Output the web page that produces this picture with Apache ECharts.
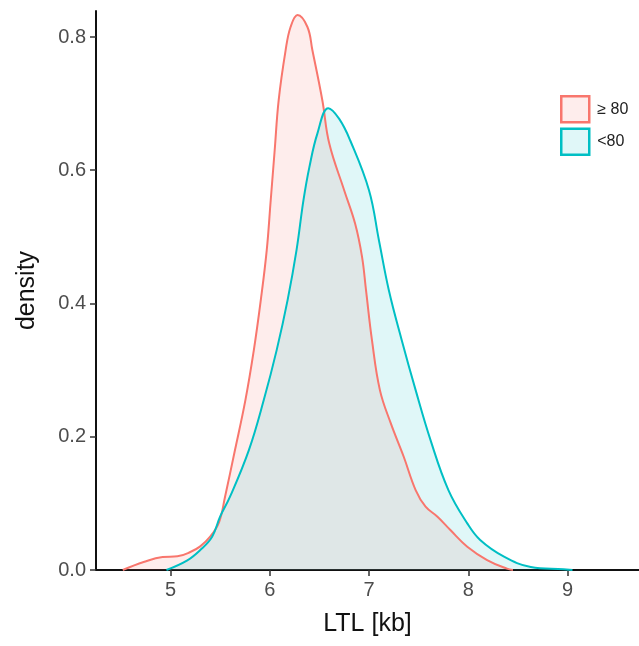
<!DOCTYPE html>
<html>
<head>
<meta charset="utf-8">
<script src="https://cdn.jsdelivr.net/npm/echarts@6/dist/echarts.min.js"></script>
<style>
  html, body { margin: 0; padding: 0; background: #fff; }
  #chart { width: 639px; height: 646px; }
</style>
</head>
<body>
<div id="chart"></div>
<script>
// density of LTL per age group
const ltlOld = [4.52, 4.73, 4.92, 5.07, 5.20, 5.30, 5.40, 5.49, 5.55, 5.65, 5.755, 5.84, 5.91, 5.97, 6.01, 6.05, 6.09, 6.16, 6.21, 6.28, 6.38, 6.43, 6.53, 6.60, 6.75, 6.86, 6.93, 6.97, 7.03, 7.11, 7.22, 7.35, 7.47, 7.57, 7.69, 7.82, 7.99, 8.19, 8.39, 8.45]
const densOld = [0, 0.012, 0.0195, 0.0205, 0.027, 0.0355, 0.05, 0.072, 0.11, 0.18, 0.255, 0.33, 0.405, 0.48, 0.555, 0.63, 0.705, 0.78, 0.815, 0.833, 0.815, 0.78, 0.705, 0.64, 0.57, 0.52, 0.47, 0.42, 0.345, 0.27, 0.22, 0.17, 0.12, 0.095, 0.08, 0.06, 0.035, 0.015, 0.002, 0]

const ltlYoung = [4.96, 5.17, 5.30, 5.42, 5.50, 5.60, 5.79, 5.94, 6.07, 6.18, 6.27, 6.34, 6.40, 6.48, 6.59, 6.70, 6.81, 7.00, 7.10, 7.20, 7.33, 7.47, 7.62, 7.80, 7.99, 8.12, 8.36, 8.63, 8.96, 9.05]
const densYoung = [0, 0.0145, 0.03, 0.05, 0.08, 0.11, 0.18, 0.255, 0.33, 0.405, 0.48, 0.555, 0.605, 0.655, 0.693, 0.677, 0.645, 0.57, 0.495, 0.42, 0.345, 0.27, 0.195, 0.12, 0.07, 0.045, 0.02, 0.0045, 0.001, 0]

const xTicks = [5, 6, 7, 8, 9]
const yTicks = [0, 0.2, 0.4, 0.6, 0.8]
const groups = ['≥ 80', '<80']
const COLOR = { '≥ 80': '#F8766D', '<80': '#00BFC4' }
const FILL = { '≥ 80': 'rgba(248,118,109,0.13)', '<80': 'rgba(0,191,196,0.12)' }

const FONT = '"Liberation Sans", Arial, sans-serif'

function pairs(xs, ys) {
  return xs.map((x, i) => [x, ys[i]])
}

const chart = echarts.init(document.getElementById('chart'))

chart.setOption({
  animation: false,
  textStyle: { fontFamily: FONT },
  grid: { left: 96, right: 0, top: 11, bottom: 76 },
  legend: {
    orient: 'vertical',
    left: 560,
    top: 95,
    padding: 0,
    itemWidth: 28,
    itemHeight: 26,
    itemGap: 4,
    textStyle: { fontSize: 16, color: '#222', fontFamily: FONT, padding: [0, 0, 0, 3] },
    data: groups.map((g) => ({
      name: g,
      icon: 'rect',
      itemStyle: { color: FILL[g], borderColor: COLOR[g], borderWidth: 2.5 },
    })),
  },
  xAxis: {
    type: 'value',
    min: 4.25,
    max: 9.72,
    name: 'LTL [kb]',
    nameLocation: 'middle',
    nameGap: 42,
    nameTextStyle: { fontSize: 25, color: '#111', fontFamily: FONT },
    splitLine: { show: false },
    axisLine: { show: true, onZero: false, lineStyle: { color: '#111', width: 2 } },
    axisTick: { show: true, length: 6, customValues: xTicks, lineStyle: { color: '#333', width: 1.5 } },
    axisLabel: { customValues: xTicks, fontSize: 20, color: '#4d4d4d', margin: 10 },
  },
  yAxis: {
    type: 'value',
    min: 0,
    max: 0.839,
    name: 'density',
    nameLocation: 'middle',
    nameGap: 56,
    nameTextStyle: { fontSize: 25, color: '#111', fontFamily: FONT },
    splitLine: { show: false },
    axisLine: { show: true, lineStyle: { color: '#111', width: 2 } },
    axisTick: { show: true, length: 6, customValues: yTicks, lineStyle: { color: '#333', width: 1.5 } },
    axisLabel: { customValues: yTicks, fontSize: 20, color: '#4d4d4d', margin: 10, formatter: (v) => v.toFixed(1) },
  },
  series: [
    { name: groups[0], data: pairs(ltlOld, densOld) },
    { name: groups[1], data: pairs(ltlYoung, densYoung) },
  ].map((s) => ({
    name: s.name,
    type: 'line',
    data: s.data,
    smooth: 0.4,
    symbol: 'none',
    lineStyle: { color: COLOR[s.name], width: 2 },
    itemStyle: { color: COLOR[s.name] },
    areaStyle: { color: FILL[s.name], opacity: 1 },
  })),
})
</script>
</body>
</html>
